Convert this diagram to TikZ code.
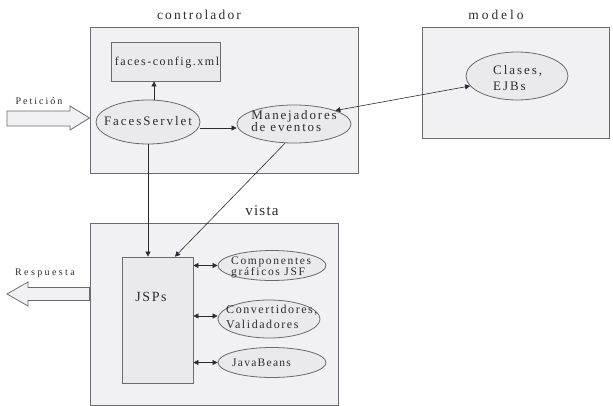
\documentclass[tikz,border=0pt]{standalone}
\usepackage{fontspec}
\setmainfont{Liberation Serif}
\usetikzlibrary{shapes.geometric,arrows.meta}
\definecolor{boxfill}{HTML}{F1F1F3}
\definecolor{ellfill}{HTML}{EAEAED}
\definecolor{edge}{HTML}{6A6A70}
\definecolor{ink}{HTML}{2A2A33}
\definecolor{txt}{HTML}{2C2C32}
% font size, line distance and letter spacing in one go
\newcommand{\spaced}[3]{\fontsize{#1}{#2}\selectfont\addfontfeatures{LetterSpace=#3}}
\tikzset{
  zone/.style={draw=edge, fill=boxfill, line width=0.9pt, inner sep=0pt},
  part/.style={draw=edge, fill=ellfill, line width=0.8pt, inner sep=0pt},
  oval/.style={ellipse, draw=edge, fill=ellfill, line width=0.8pt, inner sep=0pt},
  lbl/.style={text=txt, inner sep=0pt, align=left},
  title/.style={text=txt, inner sep=0pt},
  conn/.style={draw=ink, line width=0.6pt, -{Triangle[length=5pt,width=5pt]}},
  biconn/.style={draw=ink, line width=0.6pt, {Triangle[length=5pt,width=5pt]}-{Triangle[length=5pt,width=5pt]}},
  blockarrow/.style={draw=edge, fill=boxfill, line width=0.8pt, line join=miter}
}
\begin{document}
\begin{tikzpicture}[x=1pt,y=-1pt]
\useasboundingbox (0,0) rectangle (613,406);
\fill[white] (0,0) rectangle (613,406);

% the three layers
\node[zone, minimum width=268pt, minimum height=146pt] (ctrl) at (224,100) {};
\node[zone, minimum width=187pt, minimum height=111pt] (model) at (515.5,82.5) {};
\node[zone, minimum width=248pt, minimum height=182pt] (view) at (214,314) {};

\node[title, font=\spaced{13.5}{13.5}{16}] (tctrl) at (199,15) {controlador};
\node[title, font=\spaced{13.5}{13.5}{22}] (tmodel) at (496,15) {modelo};
\node[title, font=\spaced{15}{15}{8}] (tview) at (262,211) {vista};

% controller
\node[part, minimum width=109pt, minimum height=39pt] (cfg) at (165.5,61.5) {};
\node[lbl, font=\spaced{12}{12}{13}] at (167,63) {faces-config.xml};

\node[oval, minimum width=104pt, minimum height=44pt] (fs) at (148,122) {};
\node[lbl, font=\spaced{13}{13}{15}] at (148,121) {FacesServlet};

\node[oval, minimum width=114pt, minimum height=38pt] (mh) at (294,124) {};
\node[lbl, font=\spaced{13}{12.5}{14}] at (294,121) {Manejadores\\de eventos};

% model
\node[oval, minimum width=102pt, minimum height=48pt] (cl) at (517,76) {};
\node[lbl, anchor=west, font=\spaced{13}{16}{15}] at (493,78) {Clases,\\EJBs};

% view
\node[part, minimum width=71pt, minimum height=126pt] (jsp) at (157.5,320) {};
\node[lbl, font=\spaced{14}{14}{11}] at (151,297) {JSPs};

\node[oval, minimum width=108pt, minimum height=30pt] (comp) at (272,265.5) {};
\node[lbl, anchor=west, font=\spaced{11.5}{11}{14.5}] at (231,267.5) {Componentes\\gráficos JSF};

\node[oval, minimum width=102pt, minimum height=38pt] (conv) at (269,319) {};
\node[lbl, anchor=west, font=\spaced{12}{15}{13}] at (226,316.5) {Convertidores,\\Validadores};

\node[oval, minimum width=108pt, minimum height=30pt] (beans) at (272,362.5) {};
\node[lbl, anchor=west, font=\spaced{11.5}{11.5}{11}] at (232,363) {JavaBeans};

% connectors
\draw[conn] (fs.north -| 154,0) -- (cfg.south -| 154,0);
\draw[conn] (fs.east |- 0,128) -- (mh.west |- 0,128);
\draw[biconn] (mh.18) -- (cl.192);
\draw[conn] (fs.south) -- (jsp.north -| fs.south);
\draw[conn] (mh.-115) -- (jsp.north -| 175,0);
\draw[biconn] (jsp.east |- comp.west) -- (comp.west);
\draw[biconn] (jsp.east |- 0,316) -- (conv.west |- 0,316);
\draw[biconn] (jsp.east |- beans.west) -- (beans.west);

% request and response
\coordinate (reqtail) at (7,118.5);
\coordinate (resptip) at (7,294);
\draw[blockarrow] (reqtail |- 0,111) -- (70,111) -- (70,106) -- (ctrl.west |- 0,118) -- (70,130) -- (70,126) -- (reqtail |- 0,126) -- cycle;
\node[title, font=\spaced{10}{10}{20}] (treq) at (39,101) {Petición};

\draw[blockarrow] (view.west |- 0,287.5) -- (28,287.5) -- (28,282) -- (resptip) -- (28,306) -- (28,300.5) -- (view.west |- 0,300.5) -- cycle;
\node[title, font=\spaced{10}{10}{24}] (tresp) at (45,273) {Respuesta};
\end{tikzpicture}
\end{document}
